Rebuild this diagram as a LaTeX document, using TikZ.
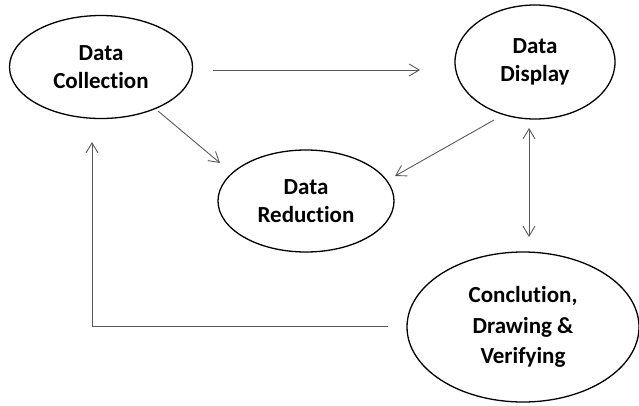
\documentclass[tikz,border=0pt]{standalone}
\usepackage{fontspec}
\setmainfont{Carlito}[Ligatures=CommonOff]
\usetikzlibrary{shapes.geometric,arrows.meta}
\begin{document}
\begin{tikzpicture}[x=1pt,y=-1pt,
  oval/.style={ellipse,draw=black,line width=1.3pt,inner sep=0pt,align=center,
    font=\fontsize{23}{28}\selectfont\bfseries},
  arr/.style={draw=black!65,line width=0.9pt,-{Straight Barb[length=10pt,width=12pt]}},
  darr/.style={draw=black!65,line width=0.9pt,{Straight Barb[length=10pt,width=12pt]}-{Straight Barb[length=10pt,width=12pt]}}]
\useasboundingbox (0,0) rectangle (639,405);
\node[oval,minimum width=183pt,minimum height=103pt] (dc) at (101,67) {Data\\Collection};
\node[oval,minimum width=160pt,minimum height=114pt] (dd) at (535,62) {Data\\Display};
\node[oval,minimum width=176pt,minimum height=102pt] (dr) at (306,201) {Data\\Reduction};
\node[oval,minimum width=232pt,minimum height=150pt,font=\fontsize{23}{30.5}\selectfont\bfseries] (cv) at (523,327) {Conclution,\\Drawing \&\\Verifying};
\draw[arr] ([shift={(112,3)}]dc.center) -- ([shift={(-115,8)}]dd.center);
\draw[arr] ([shift={(57,44)}]dc.center) -- ([shift={(-86,-38)}]dr.center);
\draw[arr] ([shift={(-41,58)}]dd.center) -- ([shift={(89,-25)}]dr.center);
\draw[darr] ([shift={(-6,66)}]dd.center) -- ([shift={(6,-90)}]cv.center);
\draw[arr] ([shift={(-135,-1)}]cv.center) -| ([shift={(-9,75)}]dc.center);
\end{tikzpicture}
\end{document}
